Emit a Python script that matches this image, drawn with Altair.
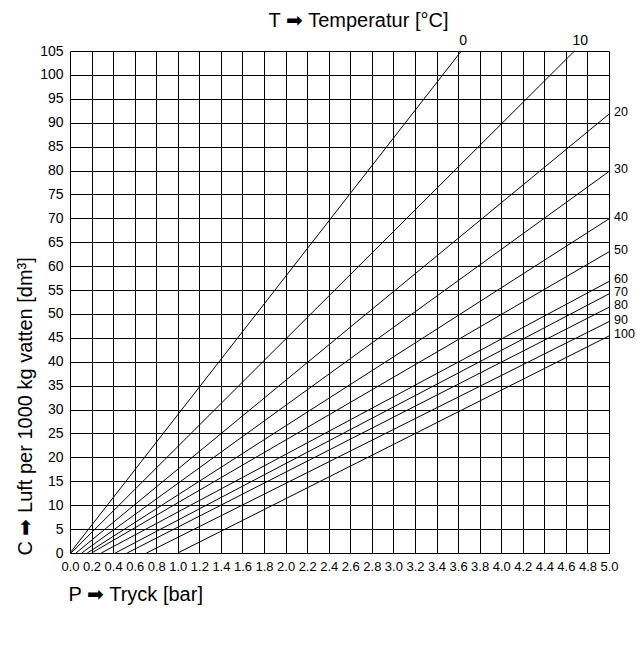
import altair as alt
import pandas as pd

# Temperature curves (°C)
temps = [0, 10, 20, 30, 40, 50, 60, 70, 80, 90, 100]
# Pressure where each curve starts at C = 0 (bar)
p_start = [0.0, 0.01, 0.056, 0.108, 0.16, 0.2, 0.29, 0.42, 0.53, 0.71, 1.0]
# End point of each curve (bar, dm³)
p_end = [3.63, 4.68, 5.0, 5.0, 5.0, 5.0, 5.0, 5.0, 5.0, 5.0, 5.0]
c_end = [105, 105, 91.8, 79.8, 69.9, 63.0, 56.8, 54.2, 51.4, 48.4, 45.4]

x_ticks = [round(i * 0.2, 1) for i in range(26)]
y_ticks = list(range(0, 106, 5))

rows = []
for t, p0, p1, c1 in zip(temps, p_start, p_end, c_end):
    rows.append({"T": t, "P": p0, "C": 0.0, "ord": 0})
    rows.append({"T": t, "P": p1, "C": c1, "ord": 1})
lines_df = pd.DataFrame(rows)

lab_df = pd.DataFrame({"T": temps, "P": p_end, "C": c_end,
                       "txt": [str(t) for t in temps]})
top_lab = lab_df[lab_df["C"] >= 105]
right_lab = lab_df[lab_df["C"] < 105]

FONT = "Liberation Sans"

x_enc = alt.X("P:Q", scale=alt.Scale(domain=[0, 5], nice=False, zero=False),
              axis=alt.Axis(values=x_ticks, format=".1f", grid=True, gridColor="black",
                            gridWidth=1, gridOpacity=1, tickSize=0, domain=False,
                            labelFontSize=13, labelPadding=7, labelOverlap=False,
                            labelFlush=False, labelColor="black", labelFont=FONT,
                            title="P ➡ Tryck [bar]", titleFont=FONT, titleFontSize=20,
                            titleFontWeight="normal", titleColor="black",
                            titleX=-2, titleY=47, titleAlign="left",
                            titleBaseline="alphabetic"))
y_enc = alt.Y("C:Q", scale=alt.Scale(domain=[0, 105], nice=False, zero=False),
              axis=alt.Axis(values=y_ticks, format="d", grid=True, gridColor="black",
                            gridWidth=1, gridOpacity=1, tickSize=0, domain=False,
                            labelFontSize=14, labelPadding=7, labelOverlap=False,
                            labelColor="black", labelFont=FONT,
                            title="C ➡ Luft per 1000 kg vatten [dm³]", titleFont=FONT,
                            titleFontSize=20, titleFontWeight="normal", titleColor="black",
                            titleAngle=270, titleX=-39, titleY=504, titleAlign="left",
                            titleBaseline="alphabetic"))

lines = alt.Chart(lines_df).mark_line(color="black", strokeWidth=1).encode(
    x=x_enc, y=y_enc, detail="T:N", order="ord:Q")

top_text = alt.Chart(top_lab).mark_text(
    align="left", baseline="alphabetic", dx=-2, dy=-6, fontSize=14, font=FONT,
    color="black").encode(x=x_enc, y=y_enc, text="txt:N")

right_text = alt.Chart(right_lab).mark_text(
    align="left", baseline="middle", dx=5, dy=-2, fontSize=12.5, font=FONT,
    color="black").encode(x=x_enc, y=y_enc, text="txt:N")

chart = alt.layer(lines, top_text, right_text).properties(
    width=539, height=502,
    autosize=alt.AutoSizeParams(type="none"),
    padding={"left": 62, "top": 43, "right": 27, "bottom": 60},
    title=alt.TitleParams("T ➡ Temperatur [°C]", font=FONT, fontSize=20,
                          fontWeight="normal", color="black", anchor="middle",
                          offset=3, dx=19),
).configure_view(stroke="black", strokeWidth=1).configure(background="white")

chart.save("out.html", embed_options={"renderer": "svg", "actions": False})
